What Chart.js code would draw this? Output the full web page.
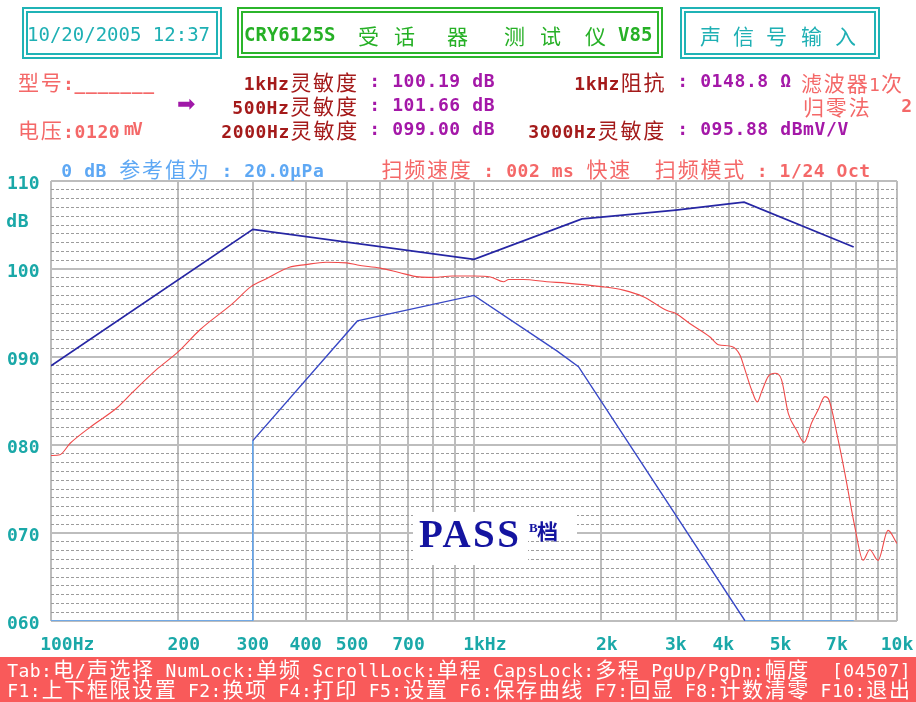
<!DOCTYPE html>
<html lang="zh-CN">
<head>
<meta charset="utf-8">
<title>CRY6125S 受话器测试仪</title>
<script src="https://cdn.jsdelivr.net/npm/chart.js@4.4.1/dist/chart.umd.min.js"></script>
<style>
html,body{margin:0;padding:0;background:#fff;}
#wrap{position:relative;width:916px;height:702px;overflow:hidden;background:#fff;}
#c{position:absolute;left:0;top:0;}
.t{position:absolute;white-space:nowrap;font-family:"DejaVu Sans Mono",monospace;font-size:18px;height:24px;line-height:24px;}
.t span{display:inline-block;text-align:center;}
.box{position:absolute;box-sizing:border-box;border-style:double;border-width:6px;}
.white{position:absolute;background:#fff;}
</style>
</head>
<body>
<div id="wrap">
<canvas id="c" width="916" height="702"></canvas>
<div class="box" style="left:22px;top:7px;width:200px;height:52px;border-color:#1fb3b6"></div>
<div class="box" style="left:237px;top:7px;width:426px;height:51px;border-color:#2bb52b"></div>
<div class="box" style="left:680px;top:7px;width:200px;height:52px;border-color:#1fb3b6"></div>
<div style="position:absolute;left:0;top:657px;width:916px;height:45px;background:#f95a5a"></div>
<div class="white" style="left:413px;top:512px;width:164px;height:26px"></div>
<div class="white" style="left:413px;top:538px;width:115px;height:27px"></div>
<div style="position:absolute;left:419px;top:514px;font-family:'Liberation Serif',serif;font-weight:bold;font-size:39px;line-height:39px;letter-spacing:2.5px;color:#1414a0;white-space:nowrap">PASS</div>
<div style="position:absolute;left:529px;top:521px;font-family:'Liberation Serif',serif;font-weight:bold;font-size:13px;line-height:13px;color:#1414a0">B</div>
<div style="position:absolute;left:537px;top:520px;font-family:'Noto Sans CJK SC',sans-serif;font-weight:bold;font-size:21px;line-height:21px;color:#1414a0">档</div>
<div style="position:absolute;left:177px;top:92px;font-family:'DejaVu Sans',sans-serif;font-size:22px;line-height:24px;color:#a018a8">➡</div>
</div>
<script>
// ---- chart data ----
const upperFreq = [100, 300, 1000, 1800, 2000, 3000, 4000, 4350, 7900];
const upperDb   = [89.0, 104.5, 101.1, 105.7, 105.9, 106.7, 107.4, 107.6, 102.5];

const lowerFreq = [100, 300, 300, 530, 1000, 1570, 1766, 4375, 7900];
const lowerDb   = [60, 60, 80.5, 94.1, 97.0, 90.7, 88.9, 60, 60];

const respFreq = [100,105,111,126,143,156,177,200,225,269,297,323,366,400,447,500,530,600,665,741,
  800,888,1000,1093,1175,1208,1310,1486,1656,2000,2254,2514,2851,3000,3236,3607,3782,4067,4256,4374,
  4533,4675,4786,4963,5147,5335,5533,5787,6035,6280,6512,6753,6876,7257,7528,7949,8313,8621,9019,9524,10000];
const respDb = [78.8,78.9,80.2,82.3,84.2,86.0,88.5,90.6,93.1,96.1,98.0,98.9,100.2,100.5,100.76,100.7,100.45,100.1,99.6,99.1,
  99.05,99.2,99.2,99.1,98.55,98.8,98.8,98.55,98.4,98.0,97.6,96.85,95.3,94.95,93.8,92.3,91.4,91.2,90.2,88.5,
  86.25,84.9,86.05,87.8,88.15,87.4,83.6,81.7,80.3,82.5,84.0,85.5,85.3,80.6,76.8,70.7,66.9,68.1,66.9,70.3,68.8];

const xGridValues = [100,200,300,400,500,600,700,800,900,1000,2000,3000,4000,5000,6000,7000,8000,9000,10000];
const xLabelValues = [100, 200, 300, 400, 500, 700, 1000, 2000, 3000, 4000, 5000, 7000, 10000];
const xLabelTexts  = ['   100Hz', ' 200', '300', '400', ' 500', '700', '  1kHz', ' 2k', '3k', '4k ', '  5k', ' 7k', '10k'];
const yLabelValues = [60, 70, 80, 90, 100, 110];
const yLabelTexts  = ['060', '070', '080', '090', '100', '110'];

// ---- header / footer text ----
const wrap = document.getElementById('wrap');
function txt(x, yc, s, color, o) {
  o = o || {};
  const W = o.w || 11.45;
  const d = document.createElement('div');
  d.className = 't';
  d.style.left = x + 'px';
  d.style.top = (yc - 12) + 'px';
  d.style.color = color;
  for (const ch of s) {
    const sp = document.createElement('span');
    const wide = /[\u3000-\u9fff\uff00-\uffef]/.test(ch);
    sp.style.width = (wide ? 2 * W : W) + 'px';
    if (wide) {
      sp.style.fontFamily = '"Noto Sans CJK SC",sans-serif';
      sp.style.fontSize = (o.cs || 21) + 'px';
    } else {
      sp.style.fontSize = (o.ls || 18) + 'px';
      sp.style.fontWeight = o.b ? 'bold' : 'normal';
    }
    sp.textContent = ch === ' ' ? '\u00a0' : ch;
    d.appendChild(sp);
  }
  wrap.appendChild(d);
}
const TEAL = '#1fb0b4', GREEN = '#26b026', SALMON = '#f46868', DRED = '#a41a1a', PURP = '#a418a8', LBLUE = '#5ea8f4', WHITE = '#ffffff';

txt(27, 34, '10/20/2005 12:37', TEAL, {ls: 19});
txt(244, 34, 'CRY6125S', GREEN, {ls: 19, b: true});
[['受',357],['话',393],['器',446],['测',503],['试',539],['仪',584]].forEach(a => txt(a[1], 35, a[0], GREEN, {cs: 21}));
txt(618, 34, 'V85', GREEN, {ls: 19, b: true});
[['声',699],['信',732],['号',765],['输',800],['入',834]].forEach(a => txt(a[1], 35, a[0], TEAL, {cs: 21}));

txt(17, 81, '型号:_______', SALMON, {b: true});
txt(243.5, 81, '1kHz灵敏度', DRED, {b: true});
txt(369, 81, ': 100.19 dB', PURP, {b: true});
txt(574, 81, '1kHz阻抗', DRED, {b: true});
txt(677, 81, ': 0148.8 Ω', PURP, {b: true});
txt(800, 82, '滤波器1次', SALMON);

txt(232, 104.5, '500Hz灵敏度', DRED, {b: true});
txt(369, 104.5, ': 101.66 dB', PURP, {b: true});
txt(802, 106, '归零法', SALMON);
txt(901, 106, '2', SALMON, {b: true});

txt(17, 129, '电压:0120', SALMON, {b: true});
txt(124, 129, 'mV', SALMON, {b: true, w: 8.5, ls: 17});
txt(221, 129, '2000Hz灵敏度', DRED, {b: true});
txt(369, 129, ': 099.00 dB', PURP, {b: true});
txt(528, 129, '3000Hz灵敏度', DRED, {b: true});
txt(677, 129, ': 095.88 dBmV/V', PURP, {b: true});

txt(61, 167.5, '0 dB 参考值为 : 20.0μPa', LBLUE, {b: true});
txt(380.5, 167.5, '扫频速度 : 002 ms 快速  扫频模式 : 1/24 Oct', SALMON, {b: true, w: 11.4});

txt(6, 221, 'dB', '#1aa8a8', {b: true});

txt(7, 668, 'Tab:电/声选择 NumLock:单频 ScrollLock:单程 CapsLock:多程 PgUp/PgDn:幅度  [04507]', WHITE, {w: 11.3});
txt(7, 688, 'F1:上下框限设置 F2:换项 F4:打印 F5:设置 F6:保存曲线 F7:回显 F8:计数清零 F10:退出', WHITE, {w: 11.3});

// ---- chart ----
const toPts = (xs, ys) => xs.map((x, i) => ({x: x, y: ys[i]}));
const isMajorY = c => c.tick && yLabelValues.indexOf(c.tick.value) >= 0;

new Chart(document.getElementById('c'), {
  type: 'line',
  data: {
    datasets: [
      {label: '上限', data: toPts(upperFreq, upperDb), borderColor: '#2626a4', borderWidth: 1.7,
        pointRadius: 0, tension: 0},
      {label: '下限', data: toPts(lowerFreq, lowerDb), borderColor: '#3848c6', borderWidth: 1.4,
        pointRadius: 0, tension: 0,
        segment: {borderColor: c => (c.p0.parsed.x === c.p1.parsed.x || (c.p0.parsed.y <= 60 && c.p1.parsed.y <= 60)) ? '#5aa2f2' : undefined}},
      {label: '测量', data: toPts(respFreq, respDb), borderColor: '#f04a4a', borderWidth: 1.1,
        pointRadius: 0, cubicInterpolationMode: 'monotone'}
    ]
  },
  options: {
    responsive: false, animation: false, devicePixelRatio: 1,
    layout: {padding: {left: 7, top: 181, right: 19, bottom: 41}},
    plugins: {legend: {display: false}, tooltip: {enabled: false}},
    scales: {
      x: {
        type: 'logarithmic', min: 100, max: 10000,
        afterBuildTicks: s => { s.ticks = xGridValues.map(v => ({value: v})); },
        afterFit: s => { s.height = 40; s.paddingLeft = 0; s.paddingRight = 0; },
        ticks: {
          autoSkip: false, maxRotation: 0, minRotation: 0, padding: 14, color: '#1aa8a8',
          font: {family: 'DejaVu Sans Mono', size: 18, weight: 'bold'},
          callback: v => { const i = xLabelValues.indexOf(v); return i < 0 ? '' : xLabelTexts[i]; }
        },
        grid: {color: '#bdbdbd', lineWidth: 2, drawTicks: false},
        border: {display: false}
      },
      y: {
        min: 60, max: 110,
        afterFit: s => { s.width = 44; s.paddingTop = 0; s.paddingBottom = 0; },
        ticks: {
          stepSize: 1, autoSkip: false, crossAlign: 'far', labelOffset: 3, color: '#1aa8a8',
          font: {family: 'DejaVu Sans Mono', size: 18, weight: 'bold'},
          callback: v => { const i = yLabelValues.indexOf(v); return i < 0 ? '' : yLabelTexts[i]; }
        },
        grid: {
          drawTicks: false,
          color: c => isMajorY(c) ? '#bdbdbd' : '#9c9c9c',
          lineWidth: c => isMajorY(c) ? 2 : 1
        },
        border: {display: false, dash: c => (c.tick && !isMajorY(c)) ? [3, 2] : []}
      }
    }
  }
});
</script>
</body>
</html>
